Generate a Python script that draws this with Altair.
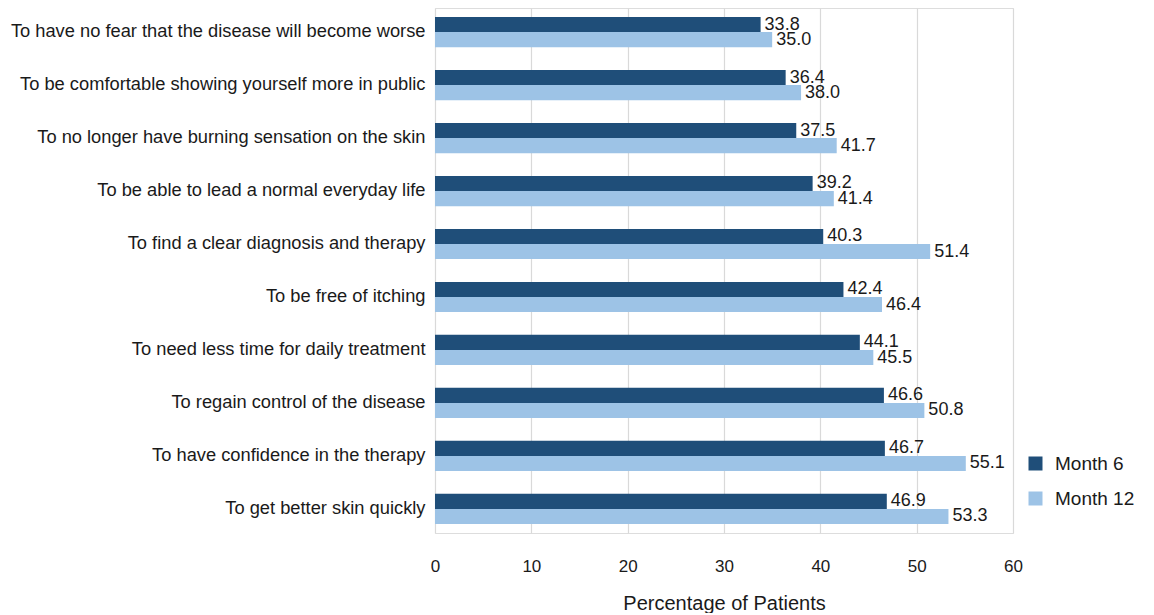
import altair as alt
import pandas as pd

categories = [
    "To have no fear that the disease will become worse",
    "To be comfortable showing yourself more in public",
    "To no longer have burning sensation on the skin",
    "To be able to lead a normal everyday life",
    "To find a clear diagnosis and therapy",
    "To be free of itching",
    "To need less time for daily treatment",
    "To regain control of the disease",
    "To have confidence in the therapy",
    "To get better skin quickly",
]
month6 = [33.8, 36.4, 37.5, 39.2, 40.3, 42.4, 44.1, 46.6, 46.7, 46.9]
month12 = [35.0, 38.0, 41.7, 41.4, 51.4, 46.4, 45.5, 50.8, 55.1, 53.3]
series = ["Month 6", "Month 12"]
colors = ["#1F4E79", "#9DC3E6"]
x_ticks = [0, 10, 20, 30, 40, 50, 60]

rows = []
for c, a, b in zip(categories, month6, month12):
    rows.append({"cat": c, "series": series[0], "value": a, "label": f"{a:.1f}"})
    rows.append({"cat": c, "series": series[1], "value": b, "label": f"{b:.1f}"})
df = pd.DataFrame(rows)

FONT = "Liberation Sans"
TXT = "#1a1a1a"

y_enc = alt.Y("cat:N", sort=categories, title=None,
              scale=alt.Scale(paddingInner=0.43, paddingOuter=0.17),
              axis=alt.Axis(domain=False, ticks=False, labelFontSize=18.3,
                            labelColor=TXT, labelPadding=10,
                            labelFont=FONT, labelLimit=600))
x_enc = alt.X("value:Q", title="Percentage of Patients",
              scale=alt.Scale(domain=[0, 60], nice=False),
              axis=alt.Axis(values=x_ticks, domain=False, ticks=False,
                            grid=True, gridColor="#d9d9d9", gridWidth=1.2,
                            labelFontSize=17, labelColor=TXT, labelFlush=False,
                            labelPadding=25, labelFont=FONT,
                            titleFontSize=20, titleFont=FONT,
                            titleFontWeight="normal", titleColor=TXT,
                            titlePadding=19))
yoff = alt.YOffset("series:N", sort=series)

bars = alt.Chart(df).mark_bar().encode(
    y=y_enc, x=x_enc, yOffset=yoff,
    color=alt.Color("series:N", sort=series,
                    scale=alt.Scale(domain=series, range=colors),
                    legend=alt.Legend(title=None, orient="none",
                                      legendX=591, legendY=446,
                                      symbolType="square", symbolSize=196,
                                      symbolStrokeWidth=0,
                                      labelFontSize=19, labelFont=FONT,
                                      labelColor=TXT, rowPadding=15,
                                      labelOffset=10)),
)

texts = alt.Chart(df).mark_text(align="left", baseline="middle", dx=4,
                                fontSize=18, font=FONT, color=TXT).encode(
    y=alt.Y("cat:N", sort=categories), x="value:Q", yOffset=yoff, text="label:N"
)

chart = (bars + texts).properties(
    width=578, height=525,
    autosize=alt.AutoSizeParams(type="none"),
    padding={"left": 427, "top": 0, "right": 130, "bottom": 80},
).configure_view(stroke=None).configure(background="white")

chart.save("out.html", embed_options={"renderer": "svg", "actions": False})
